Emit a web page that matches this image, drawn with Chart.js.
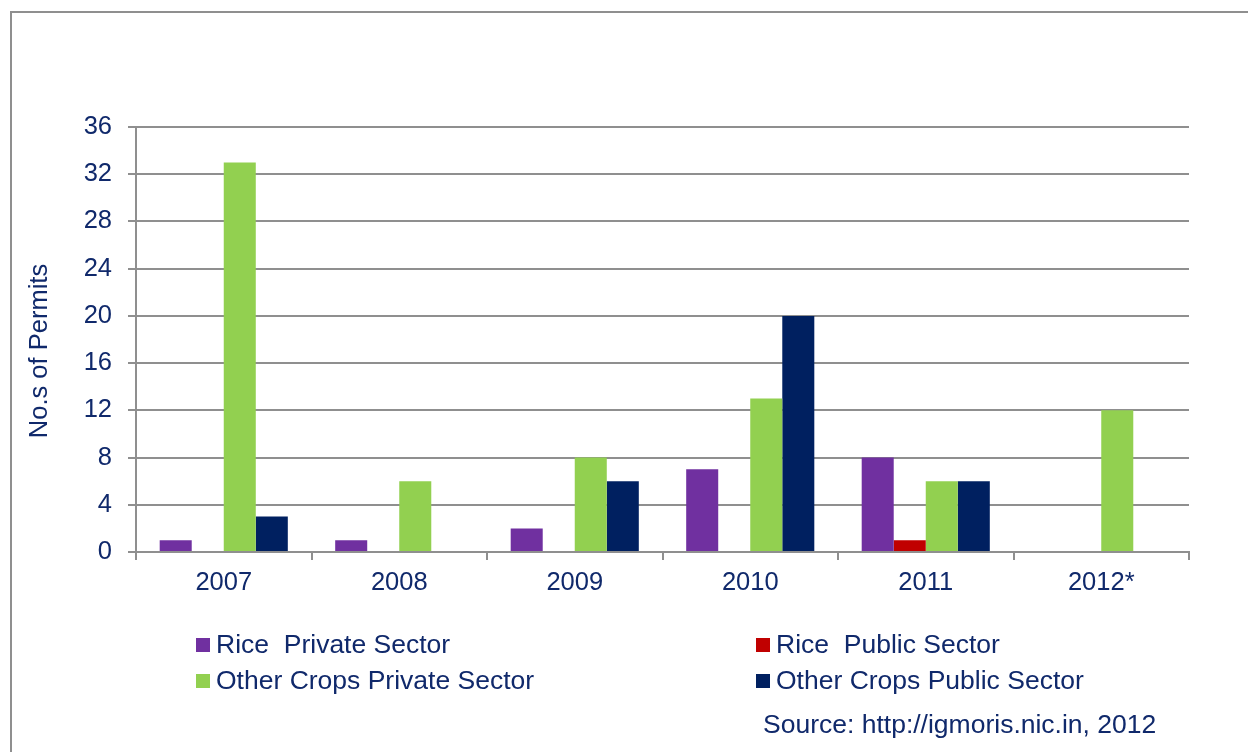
<!DOCTYPE html>
<html>
<head>
<meta charset="utf-8">
<script src="https://cdn.jsdelivr.net/npm/chart.js@4/dist/chart.umd.min.js"></script>
<style>
  body { margin: 0; background: #fff; font-family: "Liberation Sans", Arial, sans-serif; }
  #wrap { position: relative; width: 1248px; height: 752px; overflow: hidden; }
  #frame { position: absolute; left: 10px; top: 11px; width: 1300px; height: 800px; border: 2px solid #8f8f8f; }
  #myChart { position: absolute; left: 0; top: 0; }
  .key { position: absolute; font-size: 26.5px; line-height: 26px; color: #10296b; white-space: pre; }
  .key span { position: absolute; left: -20px; top: 7px; width: 14px; height: 14px; }
  #source { position: absolute; left: 763px; top: 711px; font-size: 26.5px; line-height: 26px; color: #10296b; white-space: pre; }
</style>
</head>
<body>
<div id="wrap">
  <div id="frame"></div>
  <canvas id="myChart" width="1248" height="752"></canvas>
  <div id="legend"></div>
  <div id="source">Source: http://igmoris.nic.in, 2012</div>
</div>
<script>
var years = ['2007', '2008', '2009', '2010', '2011', '2012*'];
var ricePrivate = [1, 1, 2, 7, 8, 0];
var ricePublic = [0, 0, 0, 0, 1, 0];
var otherPrivate = [33, 6, 8, 13, 6, 12];
var otherPublic = [3, 0, 6, 20, 6, 0];
var yTicks = [0, 4, 8, 12, 16, 20, 24, 28, 32, 36];
var yTitle = 'No.s of Permits';

var navy = '#10296b';
var gridGray = '#8f8f8f';

// y title sits a little below the axis middle, so draw it by hand
var yTitlePlugin = {
  id: 'yTitle',
  afterDraw: function (chart) {
    var c = chart.ctx;
    c.save();
    c.translate(40, 351);
    c.rotate(-Math.PI / 2);
    c.fillStyle = navy;
    c.font = '25.5px "Liberation Sans"';
    c.textAlign = 'center';
    c.textBaseline = 'middle';
    c.fillText(yTitle, 0, 0);
    c.restore();
  }
};

var ctx = document.getElementById('myChart').getContext('2d');
var myChart = new Chart(ctx, {
    type: 'bar',
    data: {
        labels: years,
        datasets: [{
            label: 'Rice  Private Sector',
            data: ricePrivate,
            backgroundColor: '#7030a0'
        }, {
            label: 'Rice  Public Sector',
            data: ricePublic,
            backgroundColor: '#c00000'
        }, {
            label: 'Other Crops Private Sector',
            data: otherPrivate,
            backgroundColor: '#92d050'
        }, {
            label: 'Other Crops Public Sector',
            data: otherPublic,
            backgroundColor: '#002060'
        }]
    },
    plugins: [yTitlePlugin],
    options: {
      responsive: false,
      animation: false,
      datasets: {
        bar: { categoryPercentage: 0.73, barPercentage: 1.0 }
      },
      layout: { padding: { left: 25, right: 59, top: 127, bottom: 0 } },
      plugins: {
        legend: { display: false },
        tooltip: { enabled: false }
      },
      scales: {
        x: {
          grid: { drawOnChartArea: false, drawTicks: true, tickLength: 8, color: gridGray, lineWidth: 2 },
          border: { color: gridGray, width: 2 },
          ticks: { color: navy, font: { family: 'Liberation Sans', size: 25.5 }, padding: 8 },
          afterFit: function (scale) { scale.height = 200; }
        },
        y: {
          min: 0,
          max: 36,
          afterBuildTicks: function (scale) {
            scale.ticks = yTicks.map(function (v) { return { value: v }; });
          },
          grid: { color: gridGray, lineWidth: 2, tickLength: 8 },
          border: { color: gridGray, width: 2 },
          ticks: { color: navy, font: { family: 'Liberation Sans', size: 25.5 }, padding: 16 },
          afterFit: function (scale) { scale.width = 111; }
        }
      }
    }
});

// two-column legend under the plot
var spots = [[216, 631], [776, 631], [216, 667], [776, 667]];
var legend = document.getElementById('legend');
myChart.data.datasets.forEach(function (ds, i) {
  var item = document.createElement('div');
  item.className = 'key';
  item.style.left = spots[i][0] + 'px';
  item.style.top = spots[i][1] + 'px';
  item.innerHTML = '<span style="background:' + ds.backgroundColor + '"></span>' + ds.label;
  legend.appendChild(item);
});
</script>
</body>
</html>
